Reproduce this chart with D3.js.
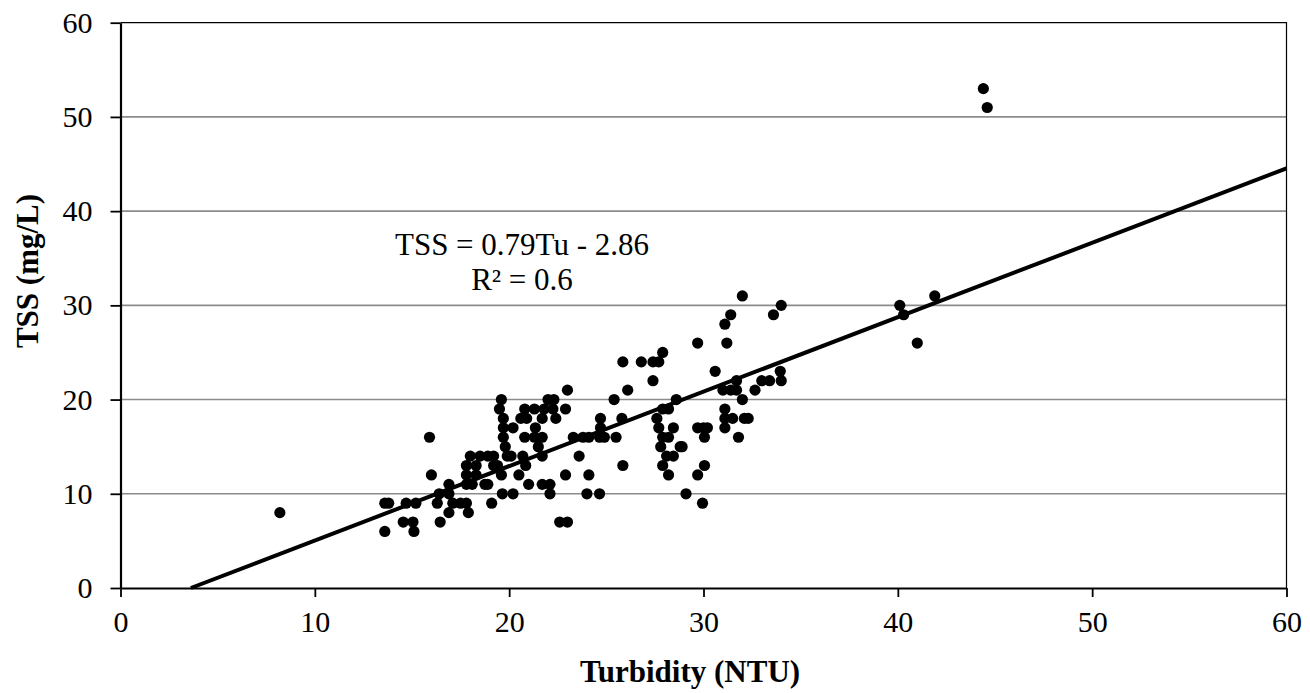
<!DOCTYPE html>
<html>
<head>
<meta charset="utf-8">
<script src="https://cdn.jsdelivr.net/npm/d3@7"></script>
<style>
  html, body { margin: 0; padding: 0; background: #fff; }
</style>
</head>
<body>
<svg id="chart"></svg>
<script>
// turbidity (NTU) and TSS (mg/L), paired by index
const turbidity = [
  44.4, 44.6,
  32.0, 41.9,
  34.0, 40.1,
  31.4, 33.6, 40.3,
  31.1,
  29.7, 31.2, 41.0,
  27.9,
  25.85, 26.8, 27.4, 27.7,
  30.6, 33.95,
  27.4, 31.7, 33.0, 33.4, 34.0,
  23.0, 26.1, 31.0, 31.4, 31.7, 32.65,
  19.6, 22.0, 22.3, 25.4, 28.6, 32.0,
  19.5, 20.8, 21.3, 21.8, 22.25, 22.9, 27.9, 28.2, 31.1,
  19.7, 20.6, 20.9, 21.7, 22.4, 24.7, 25.8, 27.6, 31.1, 31.5, 32.1, 32.3,
  19.7, 20.2, 21.35, 24.7, 27.7, 28.45, 29.7, 30.0, 30.2, 31.1,
  15.9, 19.7, 20.8, 21.3, 21.7, 23.3, 23.8, 24.1, 24.65, 24.9, 25.5, 27.9, 28.2, 30.05, 31.8,
  19.8, 21.5, 27.8, 28.8, 28.9,
  18.0, 18.5, 18.9, 19.2, 19.9, 20.1, 20.7, 21.7, 23.6, 28.1, 28.45,
  17.8, 18.3, 19.2, 19.4, 20.85, 25.85, 27.9, 30.05,
  16.0, 17.8, 18.3, 19.6, 20.5, 22.9, 24.1, 28.2, 29.7,
  16.9, 17.8, 18.1, 18.75, 18.9, 21.0, 21.7, 22.1,
  16.4, 16.9, 19.65, 20.2, 22.1, 24.0, 24.65, 29.1,
  13.6, 13.8, 14.7, 15.2, 16.3, 17.1, 17.5, 17.8, 19.1, 29.95,
  8.2, 16.9, 17.9,
  14.55, 15.05, 16.45, 22.6, 23.0,
  13.6, 15.1
];
const tss = [
  53, 51,
  31, 31,
  30, 30,
  29, 29, 29,
  28,
  26, 26, 26,
  25,
  24, 24, 24, 24,
  23, 23,
  22, 22, 22, 22, 22,
  21, 21, 21, 21, 21, 21,
  20, 20, 20, 20, 20, 20,
  19, 19, 19, 19, 19, 19, 19, 19, 19,
  18, 18, 18, 18, 18, 18, 18, 18, 18, 18, 18, 18,
  17, 17, 17, 17, 17, 17, 17, 17, 17, 17,
  16, 16, 16, 16, 16, 16, 16, 16, 16, 16, 16, 16, 16, 16, 16,
  15, 15, 15, 15, 15,
  14, 14, 14, 14, 14, 14, 14, 14, 14, 14, 14,
  13, 13, 13, 13, 13, 13, 13, 13,
  12, 12, 12, 12, 12, 12, 12, 12, 12,
  11, 11, 11, 11, 11, 11, 11, 11,
  10, 10, 10, 10, 10, 10, 10, 10,
  9, 9, 9, 9, 9, 9, 9, 9, 9, 9,
  8, 8, 8,
  7, 7, 7, 7, 7,
  6, 6
];
const xTicks = [0, 10, 20, 30, 40, 50, 60];
const yTicks = [0, 10, 20, 30, 40, 50, 60];
const fitSlope = 0.79;
const fitIntercept = -2.86;
const equationLines = ["TSS = 0.79Tu - 2.86", "R² = 0.6"];

const serif = '"Liberation Serif", "Times New Roman", Times, serif';
const width = 1310, height = 693;
const marginLeft = 120.5, marginRight = 23.5, marginTop = 22.7, marginBottom = 105;

const data = turbidity.map((t, i) => ({ x: t, y: tss[i] }));

const x = d3.scaleLinear([0, 60], [marginLeft, width - marginRight]);
const y = d3.scaleLinear([0, 60], [height - marginBottom, marginTop]);

const svg = d3.select("#chart")
    .attr("width", width)
    .attr("height", height)
    .attr("viewBox", [0, 0, width, height])
    .style("font-family", serif);

// horizontal grid lines
svg.append("g")
    .selectAll("line")
    .data(yTicks.filter(d => d > 0 && d < 60))
    .join("line")
    .attr("x1", x(0)).attr("x2", x(60))
    .attr("y1", d => y(d)).attr("y2", d => y(d))
    .attr("stroke", "#8c8c8c")
    .attr("stroke-width", 1.6);

// plot border on top and right
svg.append("path")
    .attr("d", `M${x(0)},${y(60)}H${x(60)}V${y(0)}`)
    .attr("fill", "none")
    .attr("stroke", "#000")
    .attr("stroke-width", 1.2);

// regression line, clipped to y >= 0
const x0 = -fitIntercept / fitSlope;
svg.append("line")
    .attr("x1", x(x0)).attr("y1", y(0))
    .attr("x2", x(60)).attr("y2", y(fitSlope * 60 + fitIntercept))
    .attr("stroke", "#000")
    .attr("stroke-width", 4);

// points
svg.append("g")
    .selectAll("circle")
    .data(data)
    .join("circle")
    .attr("cx", d => x(d.x))
    .attr("cy", d => y(d.y))
    .attr("r", 5.6)
    .attr("fill", "#000");

// axes
const xAxis = d3.axisBottom(x).tickValues(xTicks).tickSize(9).tickSizeOuter(0).tickPadding(14);
const yAxis = d3.axisLeft(y).tickValues(yTicks).tickSize(10).tickSizeOuter(0).tickPadding(18);

function styleAxis(g) {
    g.attr("font-family", null).attr("font-size", null);
    g.select(".domain").attr("stroke-width", 2.2);
    g.selectAll(".tick line").attr("stroke-width", 1.8);
    g.selectAll(".tick text")
        .style("font-family", serif)
        .style("font-size", "30px")
        .attr("fill", "#000");
}

svg.append("g")
    .attr("transform", `translate(0,${y(0)})`)
    .call(xAxis)
    .call(styleAxis);

svg.append("g")
    .attr("transform", `translate(${x(0)},0)`)
    .call(yAxis)
    .call(styleAxis);

// axis titles
svg.append("text")
    .attr("x", 690)
    .attr("y", 682)
    .attr("text-anchor", "middle")
    .style("font-family", serif)
    .style("font-size", "31px")
    .style("font-weight", "bold")
    .text("Turbidity (NTU)");

svg.append("text")
    .attr("transform", `translate(38,271) rotate(-90)`)
    .attr("text-anchor", "middle")
    .style("font-family", serif)
    .style("font-size", "31px")
    .style("font-weight", "bold")
    .text("TSS (mg/L)");

// equation label
svg.append("g")
    .selectAll("text")
    .data(equationLines)
    .join("text")
    .attr("x", 522)
    .attr("y", (d, i) => 255 + i * 35)
    .attr("text-anchor", "middle")
    .style("font-family", serif)
    .style("font-size", "31px")
    .text(d => d);
</script>
</body>
</html>
